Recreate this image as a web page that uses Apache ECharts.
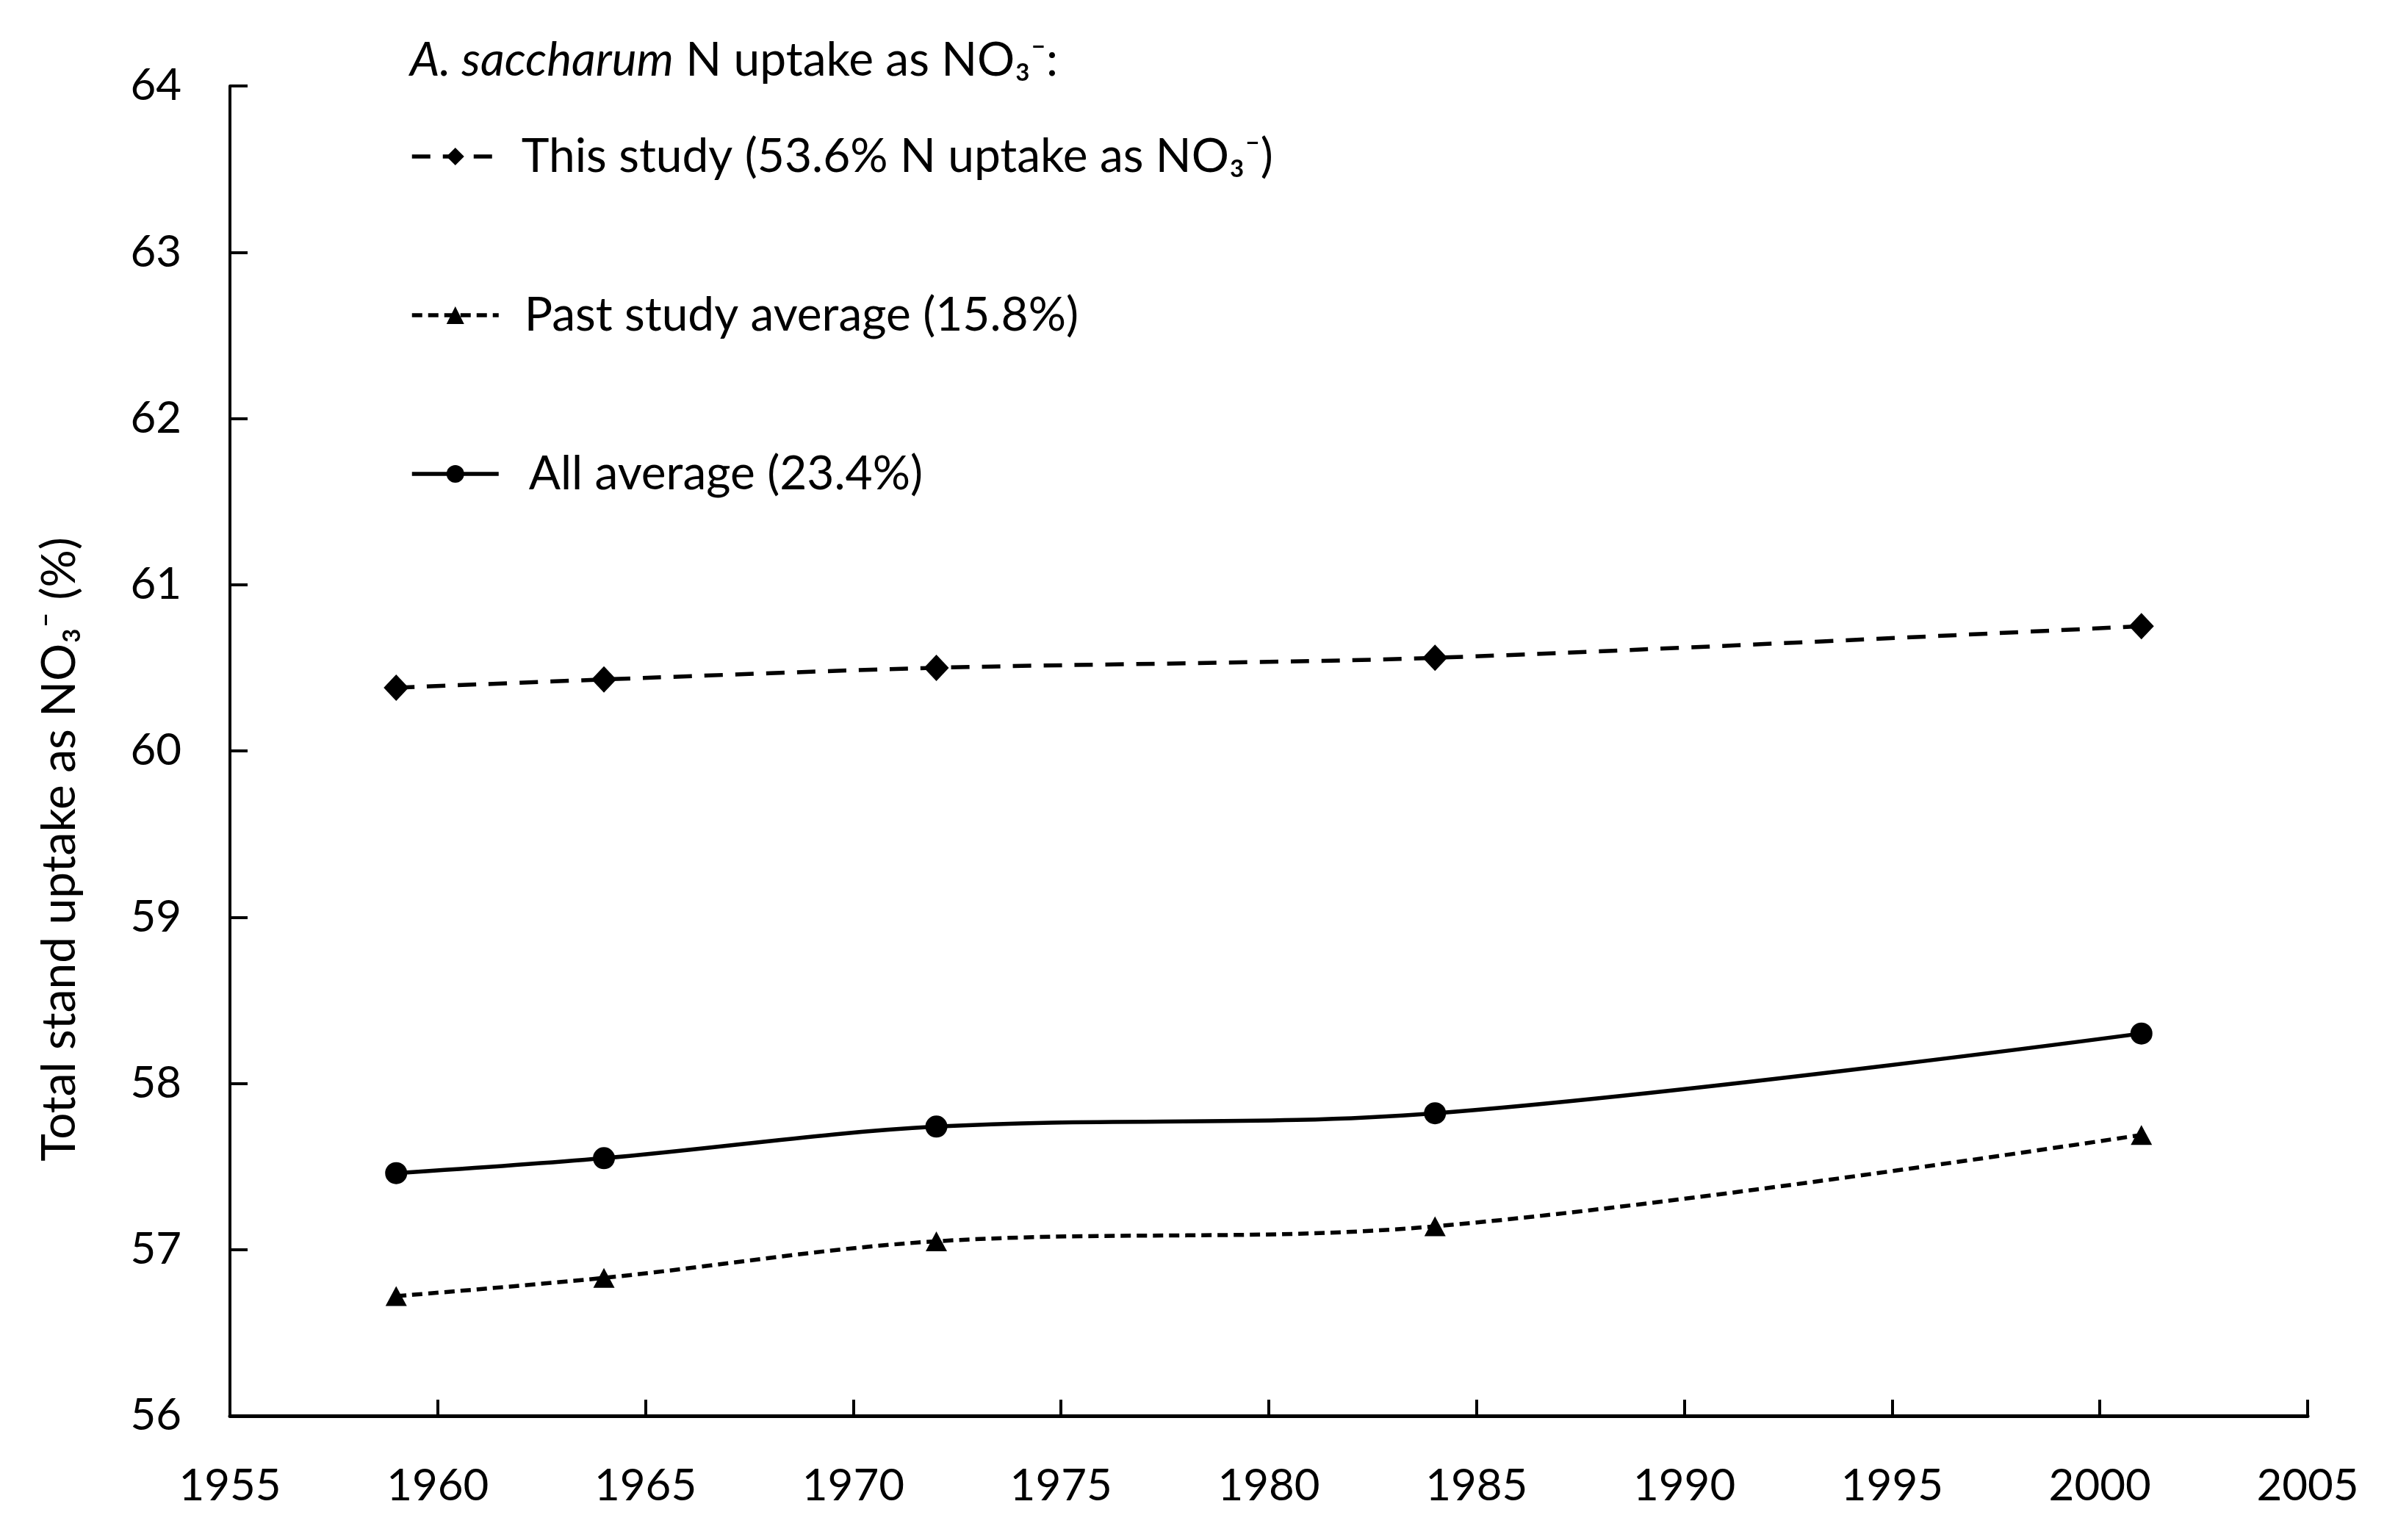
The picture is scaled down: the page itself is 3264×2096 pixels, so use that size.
<!DOCTYPE html>
<html>
<head>
<meta charset="utf-8">
<script src="https://cdn.jsdelivr.net/npm/echarts@6/dist/echarts.min.js"></script>
<style>
html,body{margin:0;padding:0;background:#fff;}
#chart{width:3264px;height:2096px;}
</style>
</head>
<body>
<div id="chart"></div>
<script>
// ---- data ----
const years = [1959, 1964, 1972, 1984, 2001];
const thisStudy = [60.38, 60.43, 60.50, 60.56, 60.75];
const pastStudyAvg = [56.72, 56.83, 57.05, 57.14, 57.69];
const allAverage = [57.46, 57.55, 57.74, 57.82, 58.30];
const seriesNames = [
  'This study (53.6% N uptake as NO\u2083\u207B)',
  'Past study average (15.8%)',
  'All average (23.4%)'
];
const legendTitle = 'N uptake as NO\u2083\u207B:';
const legendTitleItalic = 'A. saccharum';
const yAxisTitle = 'Total stand uptake as NO\u2083\u207B (%)';
const xTicks = {min: 1955, max: 2005, interval: 5};
const yTicks = {min: 56, max: 64, interval: 1};

const FONT = 'Lato, "Open Sans", sans-serif';
const pair = (xs, ys) => xs.map((x, i) => [x, ys[i]]);

const chart = echarts.init(document.getElementById('chart'), null, {renderer: 'canvas'});

function legendAt(name, top, padLeft) {
  return {
    data: [name],
    left: 558, top: top, padding: 0,
    orient: 'vertical',
    itemWidth: 118, itemHeight: 30,
    selectedMode: false,
    lineStyle: {width: 5.5},
    textStyle: {fontFamily: FONT, fontSize: 64, color: '#000', padding: [0, 0, 0, padLeft]}
  };
}

chart.setOption({
  backgroundColor: '#fff',
  animation: false,
  title: {
    left: 558, top: 50, padding: 0,
    text: '{i|' + legendTitleItalic + '} ' + legendTitle,
    textStyle: {
      fontFamily: FONT, fontSize: 64, fontWeight: 'normal', color: '#000',
      rich: {i: {fontFamily: FONT, fontSize: 64, fontStyle: 'italic', color: '#000'}}
    }
  },
  legend: [
    legendAt(seriesNames[0], 181, 26),
    legendAt(seriesNames[1], 397, 30),
    legendAt(seriesNames[2], 613, 36)
  ],
  grid: {left: 313, right: 123, top: 117, bottom: 169, containLabel: false},
  xAxis: {
    type: 'value',
    min: xTicks.min, max: xTicks.max, interval: xTicks.interval,
    axisLine: {lineStyle: {color: '#000', width: 5}},
    axisTick: {inside: true, length: 22, lineStyle: {color: '#000', width: 4}},
    axisLabel: {fontFamily: FONT, fontSize: 60, color: '#000', margin: 66,
      formatter: v => String(v)},
    splitLine: {show: false}
  },
  yAxis: {
    type: 'value',
    min: yTicks.min, max: yTicks.max, interval: yTicks.interval,
    name: yAxisTitle,
    nameLocation: 'middle',
    nameRotate: 90,
    nameGap: 200,
    nameTextStyle: {fontFamily: FONT, fontSize: 64, color: '#000', padding: [0, 268, 0, 0]},
    axisLine: {show: true, lineStyle: {color: '#000', width: 4}},
    axisTick: {show: true, inside: true, length: 24, lineStyle: {color: '#000', width: 4}},
    axisLabel: {fontFamily: FONT, fontSize: 60, color: '#000', margin: 66,
      formatter: v => String(v)},
    splitLine: {show: false}
  },
  series: [
    {
      name: seriesNames[0], type: 'line', data: pair(years, thisStudy),
      smooth: 0.3, symbol: 'diamond', symbolSize: [34, 36],
      itemStyle: {color: '#000'},
      lineStyle: {color: '#000', width: 5.5, type: [25, 17]}
    },
    {
      name: seriesNames[1], type: 'line', data: pair(years, pastStudyAvg),
      smooth: 0.35, symbol: 'triangle', symbolSize: [29, 27],
      itemStyle: {color: '#000'},
      lineStyle: {color: '#000', width: 5.5, type: [14, 8]}
    },
    {
      name: seriesNames[2], type: 'line', data: pair(years, allAverage),
      smooth: 0.35, symbol: 'circle', symbolSize: 30,
      itemStyle: {color: '#000'},
      lineStyle: {color: '#000', width: 5.5, type: 'solid'}
    }
  ]
});
</script>
</body>
</html>
